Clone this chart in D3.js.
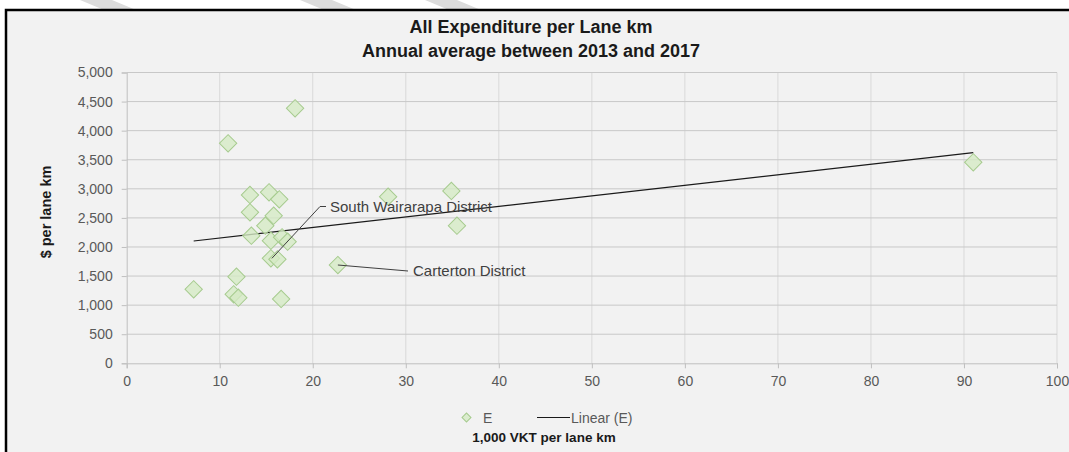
<!DOCTYPE html>
<html><head><meta charset="utf-8">
<script src="https://cdn.jsdelivr.net/npm/d3@7"></script>
<style>body{margin:0;background:#fff}svg{display:block}text{font-family:"Liberation Sans",Arial,sans-serif}</style>
</head><body>
<svg id="c" width="1069" height="452"></svg>
<script>
// Data
const vktPerLaneKm = [18.1,10.9,13.25,15.3,16.4,13.25,15.8,14.9,13.4,15.5,16.7,17.3,15.5,16.2,11.8,11.5,12.0,16.6,7.2,22.7,28.1,34.9,35.5,91.0];
const spendPerLaneKm = [4385,3783,2894,2940,2820,2596,2538,2366,2194,2108,2166,2091,1805,1788,1489,1186,1128,1106,1272,1690,2865,2963,2366,3456];
const trendX = [7.2, 91.0];
const trendY = [2103, 3621];
const xTicks = [0,10,20,30,40,50,60,70,80,90,100];
const yTicks = [0,500,1000,1500,2000,2500,3000,3500,4000,4500,5000];
const labels = [
  {name:"South Wairarapa District", x:15.5, y:1805},
  {name:"Carterton District", x:22.7, y:1690}
];
const titleLines = ["All Expenditure per Lane km","Annual average between 2013 and 2017"];

const svg = d3.select("#c");
// watermark bands
const bands = [[80,32],[300,32],[425,32]];
bands.forEach(([x0,w])=>{
  svg.append("path").attr("d",`M${x0},0 L${x0+w},0 L${x0+w+24},10 L${x0+24},10 Z`).attr("fill","#dcdcdc");
});
svg.append("rect").attr("x",6).attr("y",10).attr("width",1080).attr("height",460)
  .attr("fill","#f2f2f2").attr("stroke","#000").attr("stroke-width",2.5);

const x = d3.scaleLinear().domain([0,100]).range([126.7,1057]);
const y = d3.scaleLinear().domain([0,5000]).range([363.3,72.5]);

// gridlines
svg.append("g").selectAll("line").data(xTicks.filter(d=>d>0)).join("line")
  .attr("x1",d=>x(d)).attr("x2",d=>x(d)).attr("y1",y(5000)).attr("y2",y(0))
  .attr("stroke","#d9d9d9").attr("stroke-width",1);
svg.append("g").selectAll("line").data(yTicks.filter(d=>d>0)).join("line")
  .attr("x1",x(0)).attr("x2",x(100)).attr("y1",d=>y(d)).attr("y2",d=>y(d))
  .attr("stroke","#c8c8c8").attr("stroke-width",1);

// axes
const xa = svg.append("g").attr("transform",`translate(0,${y(0)})`)
  .call(d3.axisBottom(x).tickValues(xTicks).tickSize(5).tickPadding(8).tickFormat(d3.format("d")));
const ya = svg.append("g").attr("transform",`translate(${x(0)},0)`)
  .call(d3.axisLeft(y).tickValues(yTicks).tickSize(5).tickPadding(9).tickFormat(d3.format(",")));
[xa,ya].forEach(a=>{
  a.select(".domain").attr("stroke","#bfbfbf");
  a.selectAll(".tick line").attr("stroke","#bfbfbf");
  a.selectAll(".tick text").attr("fill","#595959").style("font-size","14px");
});

// trend line
svg.append("line").attr("x1",x(trendX[0])).attr("y1",y(trendY[0]))
  .attr("x2",x(trendX[1])).attr("y2",y(trendY[1])).attr("stroke","#1a1a1a").attr("stroke-width",1.2);

// points
const diamond = d3.symbol().type(d3.symbolSquare).size(150);
svg.append("g").selectAll("path").data(vktPerLaneKm).join("path")
  .attr("d",diamond)
  .attr("transform",(d,i)=>`translate(${x(d)},${y(spendPerLaneKm[i])}) rotate(45)`)
  .attr("fill","rgba(213,234,196,0.8)").attr("stroke","#a6cb8e").attr("stroke-width",1);

// annotations
const sw = labels[0], ct = labels[1];
svg.append("path").attr("d",`M${x(sw.x)+1},${y(sw.y)} L320,206.5 L326,206.5`)
  .attr("fill","none").attr("stroke","#404040").attr("stroke-width",1);
svg.append("text").attr("x",330).attr("y",212).text(sw.name).attr("fill","#404040").style("font-size","15px");
svg.append("path").attr("d",`M${x(ct.x)},${y(ct.y)} L408,271`)
  .attr("fill","none").attr("stroke","#404040").attr("stroke-width",1);
svg.append("text").attr("x",413).attr("y",276).text(ct.name).attr("fill","#404040").style("font-size","15px");

// titles
svg.append("text").attr("x",531).attr("y",33).attr("text-anchor","middle").text(titleLines[0])
  .attr("fill","#1a1a1a").style("font-size","18px").style("font-weight","bold");
svg.append("text").attr("x",531).attr("y",57).attr("text-anchor","middle").text(titleLines[1])
  .attr("fill","#1a1a1a").style("font-size","18px").style("font-weight","bold");

// y axis title
svg.append("text").attr("transform","translate(51,212) rotate(-90)").attr("text-anchor","middle")
  .text("$ per lane km").attr("fill","#1a1a1a").style("font-size","14.5px").style("font-weight","bold");

// legend
svg.append("path").attr("d",d3.symbol().type(d3.symbolSquare).size(40))
  .attr("transform","translate(466.5,417.5) rotate(45)")
  .attr("fill","rgba(213,234,196,0.8)").attr("stroke","#a6cb8e");
svg.append("text").attr("x",483).attr("y",422.5).text("E").attr("fill","#595959").style("font-size","14px");
svg.append("line").attr("x1",537).attr("x2",570).attr("y1",417.5).attr("y2",417.5).attr("stroke","#1a1a1a").attr("stroke-width",1.2);
svg.append("text").attr("x",571).attr("y",422.5).text("Linear (E)").attr("fill","#595959").style("font-size","14px");

// x axis title
svg.append("text").attr("x",544).attr("y",442).attr("text-anchor","middle")
  .text("1,000 VKT per lane km").attr("fill","#1a1a1a").style("font-size","13.5px").style("font-weight","bold");
</script>
</body></html>
